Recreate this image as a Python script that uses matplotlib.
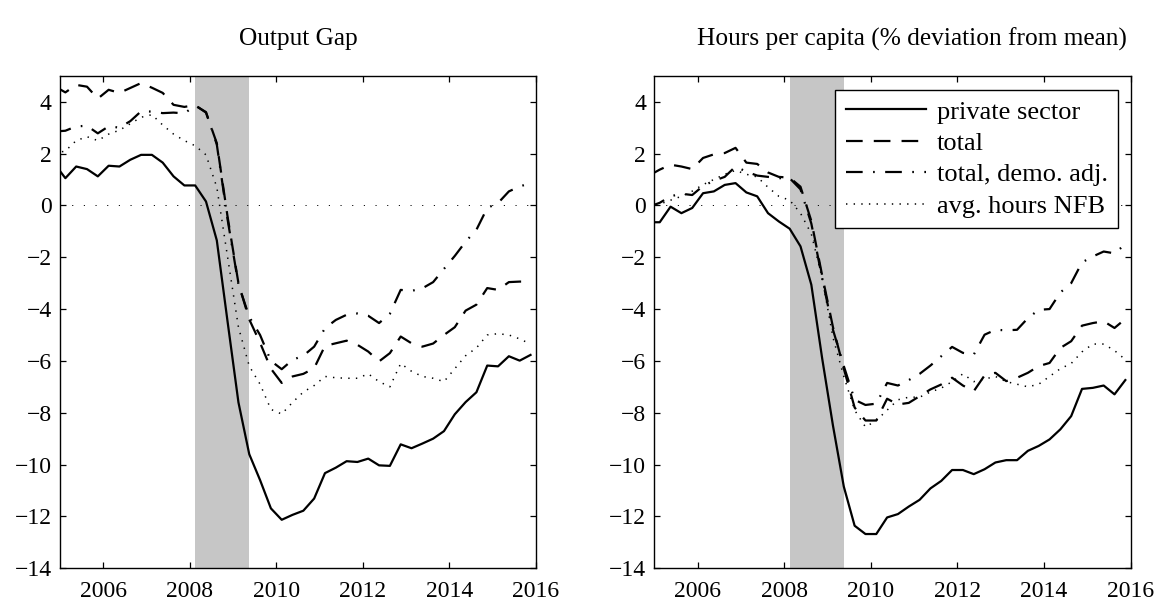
import numpy as np
import matplotlib
matplotlib.use("Agg")
from matplotlib import pyplot as plt

# Quarterly dates, 2004Q4 .. 2015Q4 (mid-quarter)
start_year = 2004.875
n_quarters = 45

# Output gap panel
gap_private = [1.6, 1.05, 1.5, 1.4, 1.12, 1.53, 1.5, 1.76, 1.95, 1.95, 1.65, 1.12, 0.77, 0.77, 0.15,
               -1.35, -4.5, -7.6, -9.6, -10.6, -11.69, -12.13, -11.94, -11.78, -11.31, -10.33, -10.12,
               -9.87, -9.9, -9.77, -10.03, -10.05, -9.22, -9.37, -9.19, -9.0, -8.71, -8.06, -7.59,
               -7.21, -6.18, -6.21, -5.82, -5.99, -5.77]
gap_total = [4.6, 4.36, 4.65, 4.58, 4.12, 4.46, 4.34, 4.53, 4.72, 4.54, 4.34, 3.88, 3.8, 3.87, 3.58,
             2.4, -0.45, -3.0, -4.4, -5.3, -6.3, -6.85, -6.6, -6.5, -6.28, -5.42, -5.32, -5.22,
             -5.38, -5.64, -6.02, -5.7, -5.06, -5.32, -5.45, -5.33, -5.0, -4.7, -4.06, -3.83,
             -3.19, -3.26, -2.96, -2.94, -2.94]
gap_demo = [2.85, 2.88, 3.05, 3.07, 2.78, 3.05, 3.0, 3.25, 3.63, 3.62, 3.56, 3.58, 3.55, 3.85, 3.6,
            2.35, -0.55, -3.05, -4.3, -5.0, -6.0, -6.32, -5.96, -5.8, -5.45, -4.74, -4.42, -4.22,
            -4.17, -4.26, -4.54, -4.18, -3.26, -3.3, -3.2, -2.96, -2.45, -1.95, -1.4, -0.94,
            -0.1, 0.09, 0.54, 0.73, 0.86]
gap_avg_hours = [2.0, 2.1, 2.5, 2.65, 2.5, 2.75, 2.9, 3.15, 3.4, 3.5, 3.1, 2.75, 2.5, 2.3, 1.95,
                 0.7, -2.0, -4.7, -6.2, -6.9, -7.87, -8.05, -7.6, -7.2, -6.95, -6.6, -6.65, -6.67,
                 -6.67, -6.5, -6.8, -7.0, -6.1, -6.4, -6.6, -6.67, -6.8, -6.3, -5.8, -5.5,
                 -5.0, -4.95, -5.0, -5.15, -5.35]

# Hours per capita panel
hrs_private = [-0.65, -0.65, -0.05, -0.3, -0.1, 0.47, 0.54, 0.79, 0.86, 0.5, 0.35, -0.3, -0.62, -0.9,
               -1.58, -3.06, -5.9, -8.5, -10.85, -12.36, -12.68, -12.68, -12.04, -11.91, -11.62,
               -11.36, -10.92, -10.63, -10.21, -10.21, -10.37, -10.18, -9.92, -9.83, -9.83, -9.47,
               -9.28, -9.03, -8.64, -8.13, -7.08, -7.04, -6.95, -7.29, -6.74]
hrs_total = [1.15, 1.38, 1.57, 1.5, 1.4, 1.83, 1.97, 2.02, 2.22, 1.65, 1.6, 1.27, 1.1, 1.07, 0.72,
             -0.6, -2.7, -4.7, -6.3, -7.8, -8.3, -8.3, -7.46, -7.68, -7.62, -7.36, -7.1, -6.91,
             -6.65, -6.95, -7.17, -6.56, -6.46, -6.78, -6.65, -6.46, -6.2, -6.08, -5.5, -5.24,
             -4.64, -4.54, -4.47, -4.73, -4.38]
hrs_demo = [-0.05, 0.1, 0.35, 0.45, 0.4, 0.75, 0.95, 1.1, 1.5, 1.3, 1.15, 1.1, 1.05, 1.05, 0.62,
            -0.7, -2.8, -4.8, -6.2, -7.5, -7.7, -7.65, -6.85, -6.95, -6.74, -6.5, -6.18, -5.82,
            -5.46, -5.69, -5.76, -4.99, -4.8, -4.82, -4.8, -4.35, -4.03, -4.0, -3.36, -3.0,
            -2.2, -1.97, -1.78, -1.85, -1.5]
hrs_avg_hours = [-0.1, 0.05, 0.2, 0.35, 0.55, 0.8, 1.0, 1.2, 1.35, 1.2, 1.1, 0.7, 0.35, 0.2, -0.3,
                 -1.1, -2.8, -5.1, -6.6, -7.9, -8.55, -8.3, -7.9, -7.5, -7.4, -7.4, -7.2, -7.05,
                 -6.8, -6.5, -6.8, -6.7, -6.6, -6.8, -6.9, -7.0, -6.9, -6.6, -6.3, -6.1,
                 -5.65, -5.35, -5.35, -5.6, -5.95]

labels = ["private sector", "total", "total, demo. adj.", "avg. hours NFB"]
titles = ["Output Gap", "Hours per capita (% deviation from mean)"]
recession = (2008.125, 2009.375)
xticks = [2006, 2008, 2010, 2012, 2014, 2016]
yticks = [-14, -12, -10, -8, -6, -4, -2, 0, 2, 4]

plt.rcParams['font.family'] = ['Liberation Serif', 'DejaVu Serif']
plt.rcParams['font.size'] = 17
plt.rcParams['lines.scale_dashes'] = False

dates = start_year + 0.25 * np.arange(n_quarters)

# matlab-ish line styles (dash lengths in points)
styles = [
    dict(ls='-', lw=1.6),
    dict(ls=(0, (12, 8)), lw=1.6),
    dict(ls=(0, (12, 7.5, 1.2, 7.5)), lw=1.6),
    dict(ls=(0, (1.0, 4.5)), lw=1.1),
]


def plot_panel(ax, series, title, title_x=0.5, legend=False):
    ax.axvspan(recession[0], recession[1], color='#c6c6c6', lw=0, zorder=0)
    ax.axhline(0, color='black', lw=0.7, ls=(0, (0.8, 7.6)), zorder=1)
    for data, st, lab in zip(series, styles, labels):
        ax.plot(dates, data, color='black', label=lab, zorder=2, **st)
    ax.set_xlim(2005, 2016)
    ax.set_ylim(-14, 5)
    ax.set_xticks(xticks)
    ax.set_yticks(yticks)
    ax.tick_params(direction='in', length=4, width=0.9, top=True, right=True,
                   labelsize=17, pad=6)
    ax.tick_params(axis='x', pad=9)
    for sp in ax.spines.values():
        sp.set_linewidth(1.0)
    ax.set_title(title, fontsize=18.3, pad=22, x=title_x)
    if legend:
        leg = ax.legend(loc='upper right', bbox_to_anchor=(0.974, 0.972), borderaxespad=0,
                        fancybox=False, edgecolor='black', framealpha=1,
                        handlelength=3.05, handletextpad=0.4, labelspacing=0.3,
                        borderpad=0.4, fontsize=19)
        leg.get_frame().set_linewidth(1.0)


fig = plt.figure(figsize=(11.62, 6.04), dpi=100)
ax1 = fig.add_axes([0.0516, 0.0592, 0.4096, 0.8153])
ax2 = fig.add_axes([0.5631, 0.0592, 0.41, 0.8153])

plot_panel(ax1, [gap_private, gap_total, gap_demo, gap_avg_hours], titles[0])
plot_panel(ax2, [hrs_private, hrs_total, hrs_demo, hrs_avg_hours], titles[1],
           title_x=0.54, legend=True)

fig.savefig("out.png", dpi=100)
